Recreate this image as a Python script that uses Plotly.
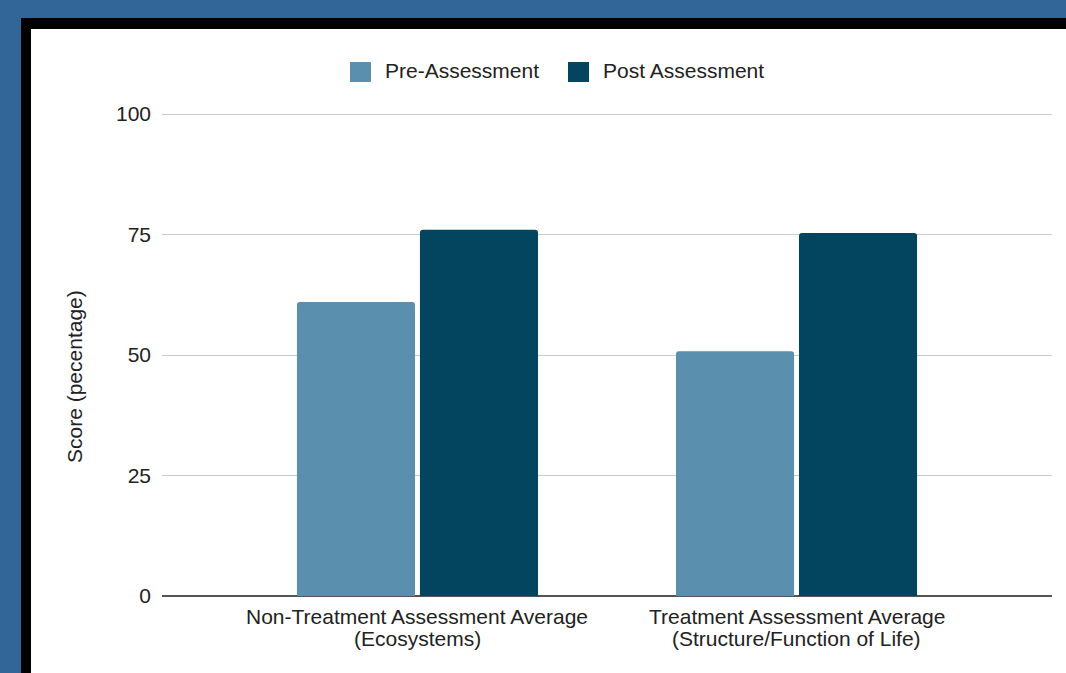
import plotly.graph_objects as go

# Category labels (two lines each) and series
categories = ["Non-Treatment Assessment Average", "Treatment Assessment Average"]
category_sublines = ["(Ecosystems)", "(Structure/Function of Life)"]
series_names = ["Pre-Assessment", "Post Assessment"]
pre_scores = [61.0, 50.8]
post_scores = [76.0, 75.3]
y_ticks = [0, 25, 50, 75, 100]

colors = ["#5a90ad", "#03445f"]
FONT = "Liberation Sans, Arial, sans-serif"
TXT = "#222222"
FS = 21

W, H = 1066, 673
L, R, T, B = 162, 14, 112, 77
pw, ph = W - L - R, H - T - B
y_top = 100 * ph / 482.0  # keeps the 100 gridline just inside the plot


def px_x(p):
    return (p - L) / pw


def px_y(p):
    return (H - B - p) / ph


fig = go.Figure()
for name, vals, col in zip(series_names, [pre_scores, post_scores], colors):
    fig.add_trace(go.Bar(
        x=list(range(len(categories))), y=vals, name=name,
        marker=dict(color=col, line=dict(width=0), cornerradius=3),
        showlegend=False,
    ))

shapes = [
    # dark frame and white card over the blue page
    dict(type="rect", xref="paper", yref="paper", layer="below",
         x0=px_x(21), x1=2, y0=-1, y1=px_y(18),
         fillcolor="#000000", line=dict(width=0)),
    dict(type="rect", xref="paper", yref="paper", layer="below",
         x0=px_x(31), x1=2, y0=-1, y1=px_y(29),
         fillcolor="#ffffff", line=dict(width=0)),
]

annotations = []
# legend swatches and labels
legend_x = [350, 568]
for name, col, lx in zip(series_names, colors, legend_x):
    shapes.append(dict(type="rect", xref="paper", yref="paper",
                       x0=px_x(lx), x1=px_x(lx + 21), y0=px_y(82), y1=px_y(62),
                       fillcolor=col, line=dict(width=0)))
    annotations.append(dict(xref="paper", yref="paper", x=px_x(lx + 33), y=px_y(70.5),
                            text=name, showarrow=False, xanchor="left", yanchor="middle",
                            font=dict(family=FONT, size=FS, color=TXT)))

# category labels
for i, (l1, l2) in enumerate(zip(categories, category_sublines)):
    annotations.append(dict(xref="x", yref="paper", x=i, y=px_y(616), text=l1,
                            showarrow=False, xanchor="center", yanchor="middle",
                            font=dict(family=FONT, size=FS, color=TXT)))
    annotations.append(dict(xref="x", yref="paper", x=i, y=px_y(638), text=l2,
                            showarrow=False, xanchor="center", yanchor="middle",
                            font=dict(family=FONT, size=FS, color=TXT)))

# y-axis title
annotations.append(dict(xref="paper", yref="paper", x=px_x(74), y=px_y(377),
                        text="Score (pecentage)", textangle=-90, showarrow=False,
                        xanchor="center", yanchor="middle",
                        font=dict(family=FONT, size=FS, color=TXT)))

fig.update_layout(
    width=W, height=H,
    margin=dict(l=L, r=R, t=T, b=B),
    paper_bgcolor="#326699",
    plot_bgcolor="rgba(0,0,0,0)",
    barmode="group", bargap=0.351, bargroupgap=0.04,
    shapes=shapes, annotations=annotations,
    showlegend=False,
    font=dict(family=FONT, size=FS, color=TXT),
    xaxis=dict(range=[-0.674, 1.674], showticklabels=False, showgrid=False,
               zeroline=False, showline=False, ticks=""),
    yaxis=dict(range=[0, y_top], tickvals=y_ticks, showgrid=True, gridcolor="#cccccc",
               gridwidth=1, zeroline=True, zerolinecolor="#555555", zerolinewidth=1.5,
               showline=False, ticks="", ticklabelstandoff=10,
               tickfont=dict(family=FONT, size=FS, color=TXT)),
)

fig.write_html("out.html")
